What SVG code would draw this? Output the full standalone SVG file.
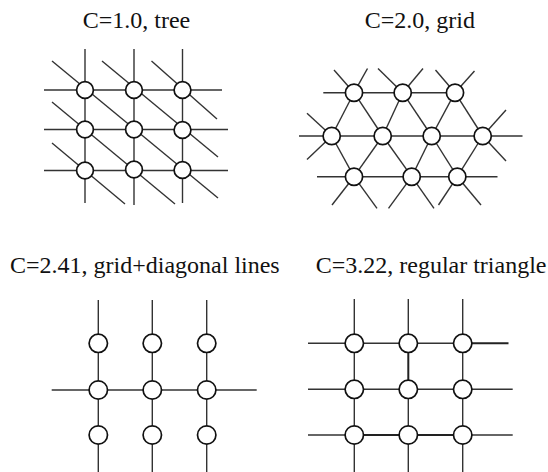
<svg xmlns="http://www.w3.org/2000/svg" width="548" height="472" viewBox="0 0 548 472">
<style>
.bg{fill:#ffffff}
.t{font-family:"Liberation Serif","Times New Roman",serif;font-size:24px;fill:#111}
.e{stroke:#333;stroke-width:1.4;fill:none;stroke-linecap:butt}
.eb{stroke:#222;stroke-width:2;fill:none}
.n{fill:#fff;stroke:#111;stroke-width:1.7}
</style>
<rect class="bg" x="0" y="0" width="548" height="472"/>
<g id="titles">
<text class="t" x="82.7" y="28">C=1.0, tree</text>
<text class="t" x="364.7" y="28">C=2.0, grid</text>
<text class="t" x="10" y="273">C=2.41, grid+diagonal lines</text>
<text class="t" x="315.7" y="273">C=3.22, regular triangle</text>
</g>
<g id="connectors">
<!-- tree -->
<line class="e" x1="85" y1="49" x2="85" y2="203"/>
<line class="e" x1="134" y1="49" x2="134" y2="205"/>
<line class="e" x1="182.5" y1="49" x2="182.5" y2="203"/>
<line class="e" x1="44" y1="90" x2="222" y2="90"/>
<line class="e" x1="44" y1="129.5" x2="228" y2="129.5"/>
<line class="e" x1="44" y1="170.5" x2="228" y2="170.5"/>
<line class="e" x1="52" y1="61" x2="218" y2="198"/>
<line class="e" x1="102" y1="61" x2="218" y2="157"/>
<line class="e" x1="151.5" y1="61" x2="217" y2="119"/>
<line class="e" x1="52" y1="102" x2="175" y2="204"/>
<line class="e" x1="52" y1="143" x2="125" y2="204"/>
<!-- grid (hex) -->
<line class="e" x1="323.3" y1="92.7" x2="455" y2="92.7"/>
<line class="e" x1="299" y1="136" x2="522.5" y2="136"/>
<line class="e" x1="317" y1="176.7" x2="497.5" y2="176.7"/>
<line class="e" x1="354" y1="92.7" x2="331.7" y2="136"/>
<line class="e" x1="354" y1="92.7" x2="382.7" y2="136"/>
<line class="e" x1="402.7" y1="92.7" x2="382.7" y2="136"/>
<line class="e" x1="402.7" y1="92.7" x2="431.7" y2="136"/>
<line class="e" x1="455" y1="92.7" x2="431.7" y2="136"/>
<line class="e" x1="455" y1="92.7" x2="482.7" y2="136"/>
<line class="e" x1="331.7" y1="136" x2="354" y2="176.7"/>
<line class="e" x1="382.7" y1="136" x2="354" y2="176.7"/>
<line class="e" x1="382.7" y1="136" x2="411.7" y2="176.7"/>
<line class="e" x1="431.7" y1="136" x2="411.7" y2="176.7"/>
<line class="e" x1="431.7" y1="136" x2="457.3" y2="176.7"/>
<line class="e" x1="482.7" y1="136" x2="457.3" y2="176.7"/>
<line class="e" x1="354" y1="92.7" x2="334" y2="70"/>
<line class="e" x1="354" y1="92.7" x2="367.5" y2="68.5"/>
<line class="e" x1="402.7" y1="92.7" x2="378" y2="68.5"/>
<line class="e" x1="402.7" y1="92.7" x2="423" y2="68.5"/>
<line class="e" x1="455" y1="92.7" x2="435.5" y2="70"/>
<line class="e" x1="455" y1="92.7" x2="474.5" y2="71"/>
<line class="e" x1="331.7" y1="136" x2="307" y2="113.3"/>
<line class="e" x1="331.7" y1="136" x2="307" y2="159.5"/>
<line class="e" x1="482.7" y1="136" x2="506" y2="110"/>
<line class="e" x1="482.7" y1="136" x2="506" y2="161"/>
<line class="e" x1="354" y1="176.7" x2="332" y2="205"/>
<line class="e" x1="354" y1="176.7" x2="377" y2="208.3"/>
<line class="e" x1="411.7" y1="176.7" x2="388.5" y2="208.3"/>
<line class="e" x1="411.7" y1="176.7" x2="434" y2="208.3"/>
<line class="e" x1="457.3" y1="176.7" x2="438.5" y2="205"/>
<line class="e" x1="457.3" y1="176.7" x2="481" y2="205"/>
<!-- grid+diagonal -->
<line class="e" x1="98.3" y1="300" x2="98.3" y2="472"/>
<line class="e" x1="152.3" y1="300" x2="152.3" y2="472"/>
<line class="e" x1="206.7" y1="300" x2="206.7" y2="472"/>
<line class="e" x1="51.7" y1="390" x2="256.7" y2="390"/>
<!-- regular triangle -->
<line class="e" x1="354.3" y1="299" x2="354.3" y2="472"/>
<line class="e" x1="408.3" y1="299" x2="408.3" y2="343"/>
<line class="eb" x1="408.3" y1="343" x2="408.3" y2="389"/>
<line class="e" x1="408.3" y1="389" x2="408.3" y2="472"/>
<line class="e" x1="462.7" y1="299" x2="462.7" y2="472"/>
<line class="e" x1="308" y1="343.3" x2="462.7" y2="343.3"/>
<line class="eb" x1="462.7" y1="343.3" x2="508.5" y2="343.3"/>
<line class="e" x1="308" y1="389.3" x2="512.7" y2="389.3"/>
<line class="e" x1="308" y1="435" x2="354.3" y2="435"/>
<line class="eb" x1="354.3" y1="435" x2="462.7" y2="435"/>
<line class="e" x1="462.7" y1="435" x2="512.7" y2="435"/>
</g>
<g id="tree-nodes">
<g id="t11"><circle class="n" cx="85" cy="90" r="8.4"/></g>
<g id="t12"><circle class="n" cx="134" cy="90" r="8.4"/></g>
<g id="t13"><circle class="n" cx="182.5" cy="90" r="8.4"/></g>
<g id="t21"><circle class="n" cx="85" cy="129.5" r="8.4"/></g>
<g id="t22"><circle class="n" cx="134" cy="129.5" r="8.4"/></g>
<g id="t23"><circle class="n" cx="182.5" cy="130" r="8.4"/></g>
<g id="t31"><circle class="n" cx="85" cy="170.5" r="8.4"/></g>
<g id="t32"><circle class="n" cx="134" cy="169.5" r="8.4"/></g>
<g id="t33"><circle class="n" cx="182.5" cy="170" r="8.4"/></g>
</g>
<g id="grid-nodes">
<g id="gA1"><circle class="n" cx="354" cy="92.7" r="8.6"/></g>
<g id="gA2"><circle class="n" cx="402.7" cy="92.7" r="8.6"/></g>
<g id="gA3"><circle class="n" cx="455" cy="92.7" r="8.6"/></g>
<g id="gB1"><circle class="n" cx="331.7" cy="136" r="8.6"/></g>
<g id="gB2"><circle class="n" cx="382.7" cy="136" r="8.6"/></g>
<g id="gB3"><circle class="n" cx="431.7" cy="136" r="8.6"/></g>
<g id="gB4"><circle class="n" cx="482.7" cy="136" r="8.6"/></g>
<g id="gC1"><circle class="n" cx="354" cy="176.7" r="8.6"/></g>
<g id="gC2"><circle class="n" cx="411.7" cy="176.7" r="8.6"/></g>
<g id="gC3"><circle class="n" cx="457.3" cy="176.7" r="8.6"/></g>
</g>
<g id="gd-nodes">
<g id="d11"><circle class="n" cx="98.3" cy="343.3" r="9.2"/></g>
<g id="d12"><circle class="n" cx="152.3" cy="343.3" r="9.2"/></g>
<g id="d13"><circle class="n" cx="206.7" cy="343.3" r="9.2"/></g>
<g id="d21"><circle class="n" cx="98.3" cy="390" r="9.2"/></g>
<g id="d22"><circle class="n" cx="152.3" cy="390" r="9.2"/></g>
<g id="d23"><circle class="n" cx="206.7" cy="390" r="9.2"/></g>
<g id="d31"><circle class="n" cx="98.3" cy="435" r="9.2"/></g>
<g id="d32"><circle class="n" cx="152.3" cy="435" r="9.2"/></g>
<g id="d33"><circle class="n" cx="206.7" cy="435" r="9.2"/></g>
</g>
<g id="rt-nodes">
<g id="r11"><circle class="n" cx="354.3" cy="343.3" r="9.2"/></g>
<g id="r12"><circle class="n" cx="408.3" cy="343.3" r="9.2"/></g>
<g id="r13"><circle class="n" cx="462.7" cy="343.3" r="9.2"/></g>
<g id="r21"><circle class="n" cx="354.3" cy="389.3" r="9.2"/></g>
<g id="r22"><circle class="n" cx="408.3" cy="389.3" r="9.2"/></g>
<g id="r23"><circle class="n" cx="462.7" cy="389.3" r="9.2"/></g>
<g id="r31"><circle class="n" cx="354.3" cy="435" r="9.2"/></g>
<g id="r32"><circle class="n" cx="408.3" cy="435" r="9.2"/></g>
<g id="r33"><circle class="n" cx="462.7" cy="435" r="9.2"/></g>
</g>
</svg>
